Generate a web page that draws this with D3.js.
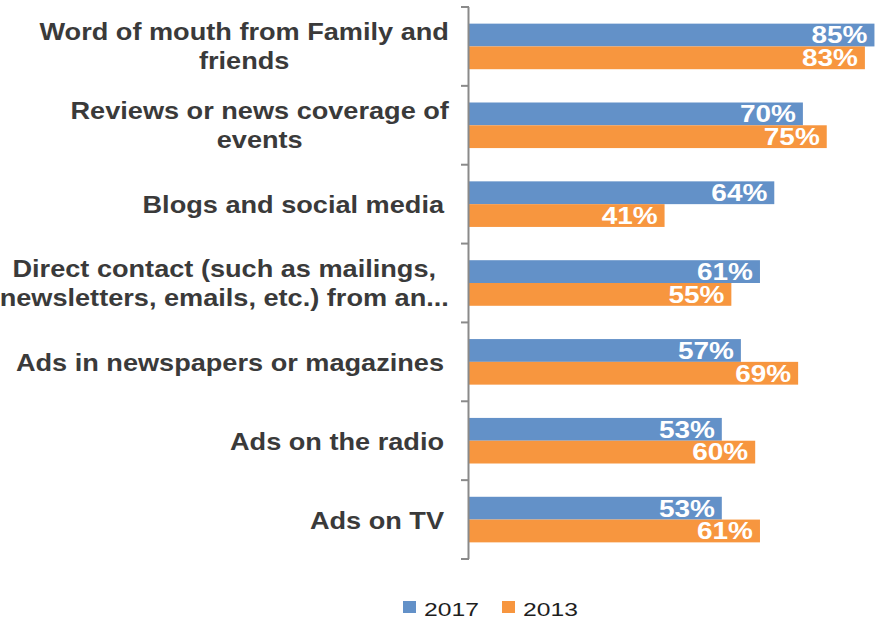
<!DOCTYPE html>
<html>
<head>
<meta charset="utf-8">
<script src="https://cdn.jsdelivr.net/npm/d3@7"></script>
<style>
  html, body { margin: 0; padding: 0; background: #fff; }
  svg { display: block; }
</style>
</head>
<body>
<svg id="chart" width="882" height="619"></svg>
<script>
// Information sources, share of respondents (%)
const categories = [
  ["Word of mouth from Family and", "friends"],
  ["Reviews or news coverage of", "events"],
  ["Blogs and social media"],
  ["Direct contact (such as mailings,", "newsletters, emails, etc.) from an..."],
  ["Ads in newspapers or magazines"],
  ["Ads on the radio"],
  ["Ads on TV"]
];
const seriesNames = ["2017", "2013"];
const values2017 = [85, 70, 64, 61, 57, 53, 53];
const values2013 = [83, 75, 41, 55, 69, 60, 61];
const seriesColors = ["#6391c8", "#f7963f"];

const svg = d3.select("#chart");
const STRETCH = 1.18;   // horizontal text stretch
const catIds = categories.map((c, i) => i);

const x = d3.scaleLinear().domain([0, 100]).range([469, 946]);
const y = d3.scaleBand().domain(catIds).range([7, 559]).paddingInner(0).paddingOuter(0);
const ySub = d3.scaleBand().domain(seriesNames).range([0, y.bandwidth()]).paddingInner(0).paddingOuter(0.73);

const rows = catIds.map(i => ({ i, vals: [values2017[i], values2013[i]] }));

// bars
const groups = svg.append("g").selectAll("g").data(rows).join("g")
  .attr("transform", d => `translate(0,${y(d.i)})`);

groups.selectAll("rect").data(d => d.vals.map((v, k) => ({ v, k })))
  .join("rect")
  .attr("x", x(0))
  .attr("y", d => ySub(seriesNames[d.k]))
  .attr("width", d => x(d.v) - x(0))
  .attr("height", ySub.bandwidth())
  .attr("fill", d => seriesColors[d.k]);

// value labels inside bar ends
groups.selectAll("g.val").data(d => d.vals.map((v, k) => ({ v, k })))
  .join("g").attr("class", "val")
  .attr("transform", d => `translate(${x(d.v) - 7},${ySub(seriesNames[d.k]) + ySub.bandwidth() / 2}) scale(1.2,1)`)
  .append("text")
  .attr("text-anchor", "end")
  .attr("dy", "0.36em")
  .attr("font-family", "Liberation Sans, Arial, sans-serif")
  .attr("font-weight", "bold")
  .attr("font-size", 23.3)
  .attr("fill", "#ffffff")
  .text(d => d.v + "%");

// category axis
const axis = svg.append("g");
axis.append("line")
  .attr("x1", 468.5).attr("x2", 468.5)
  .attr("y1", y.range()[0]).attr("y2", y.range()[1])
  .attr("stroke", "#8a8a8a").attr("stroke-width", 2);
const tickPos = catIds.map(i => y(i)).concat([y.range()[1]]);
axis.selectAll("line.tick").data(tickPos).join("line").attr("class", "tick")
  .attr("x1", 461).attr("x2", 469)
  .attr("y1", d => d).attr("y2", d => d)
  .attr("stroke", "#8a8a8a").attr("stroke-width", 2);

// category labels
const LINE_H = 29;
const labelFont = 23;
catIds.forEach(i => {
  const lines = categories[i];
  const cy = y(i) + y.bandwidth() / 2;
  const n = lines.length;
  const g = svg.append("g");
  const texts = lines.map((t, j) => g.append("text")
    .attr("font-family", "Liberation Sans, Arial, sans-serif")
    .attr("font-weight", "bold")
    .attr("font-size", labelFont)
    .attr("fill", "#3a3a3a")
    .text(t));
  if (n === 1) {
    texts[0].attr("text-anchor", "end")
      .attr("transform", `translate(444,${cy + 9}) scale(${STRETCH},1)`);
  } else {
    const widths = texts.map(t => t.node().getComputedTextLength() * STRETCH);
    const maxW = d3.max(widths);
    const right = 449;
    const cx = right - maxW / 2;
    texts.forEach((t, j) => {
      t.attr("text-anchor", "middle")
        .attr("transform", `translate(${cx},${cy + (j - (n - 1) / 2) * LINE_H + 8}) scale(${STRETCH},1)`);
    });
  }
});

// legend
const legend = svg.append("g");
const legendX = [403, 502];
seriesNames.forEach((name, k) => {
  legend.append("rect")
    .attr("x", legendX[k]).attr("y", 601)
    .attr("width", 13).attr("height", 12)
    .attr("fill", seriesColors[k]);
  legend.append("text")
    .attr("transform", `translate(${legendX[k] + 21},616) scale(1.3,1)`)
    .attr("font-family", "Liberation Sans, Arial, sans-serif")
    .attr("font-size", 19)
    .attr("fill", "#1e1e1e")
    .text(name);
});
</script>
</body>
</html>
